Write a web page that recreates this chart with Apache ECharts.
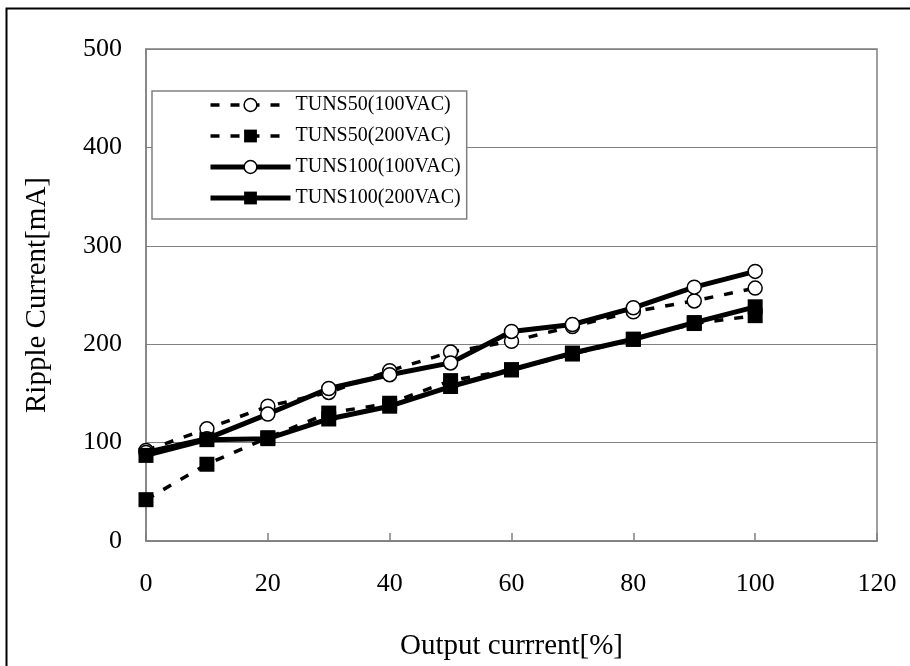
<!DOCTYPE html>
<html>
<head>
<meta charset="utf-8">
<script src="https://cdn.jsdelivr.net/npm/echarts@6/dist/echarts.min.js"></script>
<style>
html,body{margin:0;padding:0;background:#fff;}
#chart{width:910px;height:666px;}
</style>
</head>
<body>
<div id="chart"></div>
<script>
const outputPct = [0, 10, 20, 30, 40, 50, 60, 70, 80, 90, 100];
const tuns50_100 = [92, 114, 137, 151, 173, 192, 203, 218, 233, 244, 257];
const tuns50_200 = [42, 78, 105, 130, 140, 163, 174, 190, 205, 221, 229];
const tuns100_100 = [90, 104, 129, 155, 169, 181, 213, 220, 237, 258, 274];
const tuns100_200 = [87, 103, 104, 124, 137, 157, 174, 191, 205, 222, 238];
const seriesNames = ['TUNS50(100VAC)', 'TUNS50(200VAC)', 'TUNS100(100VAC)', 'TUNS100(200VAC)'];
const xName = 'Output currrent[%]';
const yName = 'Ripple Current[mA]';

const FONT = '"Liberation Serif", serif';
const pairs = arr => outputPct.map((x, i) => [x, arr[i]]);
const DASH = [9, 11];

function mk(name, data, dashed, symbol) {
  const isCircle = symbol === 'circle';
  return {
    name: name,
    type: 'line',
    data: pairs(data),
    symbol: symbol,
    symbolSize: isCircle ? 14 : 15,
    lineStyle: {color: '#000', width: dashed ? 3.5 : 5, type: dashed ? DASH : 'solid'},
    itemStyle: {color: isCircle ? '#fff' : '#000', borderColor: '#000', borderWidth: isCircle ? 1.5 : 0},
    emphasis: {disabled: true},
    animation: false
  };
}

const legendData = seriesNames.map((n, i) => ({
  name: n,
  lineStyle: {color: '#000', width: i < 2 ? 3.5 : 5, type: i < 2 ? DASH : 'solid'},
  itemStyle: {color: i % 2 === 0 ? '#fff' : '#000', borderColor: '#000', borderWidth: i % 2 === 0 ? 1.5 : 0}
}));

const chart = echarts.init(document.getElementById('chart'), null, {renderer: 'canvas'});
chart.setOption({
  backgroundColor: '#fff',
  animation: false,
  graphic: [{
    type: 'rect', z: -10,
    shape: {x: 6.5, y: 8.5, width: 1000, height: 1000},
    style: {fill: 'none', stroke: '#000', lineWidth: 2}
  }],
  grid: {left: 146, top: 49, right: 33, bottom: 124, show: true, borderColor: '#808080', borderWidth: 1.5, backgroundColor: '#fff'},
  legend: {
    orient: 'vertical', left: 152, top: 91,
    data: legendData,
    itemWidth: 80, itemHeight: 16, itemGap: 11,
    padding: [4, 6, 11, 56],
    backgroundColor: '#fff', borderColor: '#808080', borderWidth: 1.5,
    textStyle: {fontFamily: FONT, fontSize: 20, color: '#000', lineHeight: 20},
    selectedMode: false
  },
  xAxis: {
    type: 'value', min: 0, max: 120, interval: 20,
    name: xName, nameLocation: 'middle', nameGap: 91,
    nameTextStyle: {fontFamily: FONT, fontSize: 29, color: '#000'},
    axisLine: {show: true, lineStyle: {color: '#808080', width: 1.5}},
    axisTick: {show: true, inside: true, length: 8, lineStyle: {color: '#808080', width: 1.5}},
    axisLabel: {fontFamily: FONT, fontSize: 26, color: '#000', margin: 30},
    splitLine: {show: false}
  },
  yAxis: {
    type: 'value', min: 0, max: 500, interval: 100,
    name: yName, nameLocation: 'middle', nameGap: 94,
    nameTextStyle: {fontFamily: FONT, fontSize: 29, color: '#000'},
    axisLine: {show: true, lineStyle: {color: '#808080', width: 1.5}},
    axisTick: {show: false},
    axisLabel: {fontFamily: FONT, fontSize: 26, color: '#000', margin: 24},
    splitLine: {show: true, lineStyle: {color: '#808080', width: 1.2}}
  },
  series: [
    mk(seriesNames[0], tuns50_100, true, 'circle'),
    mk(seriesNames[1], tuns50_200, true, 'rect'),
    mk(seriesNames[2], tuns100_100, false, 'circle'),
    mk(seriesNames[3], tuns100_200, false, 'rect')
  ]
});
</script>
</body>
</html>
